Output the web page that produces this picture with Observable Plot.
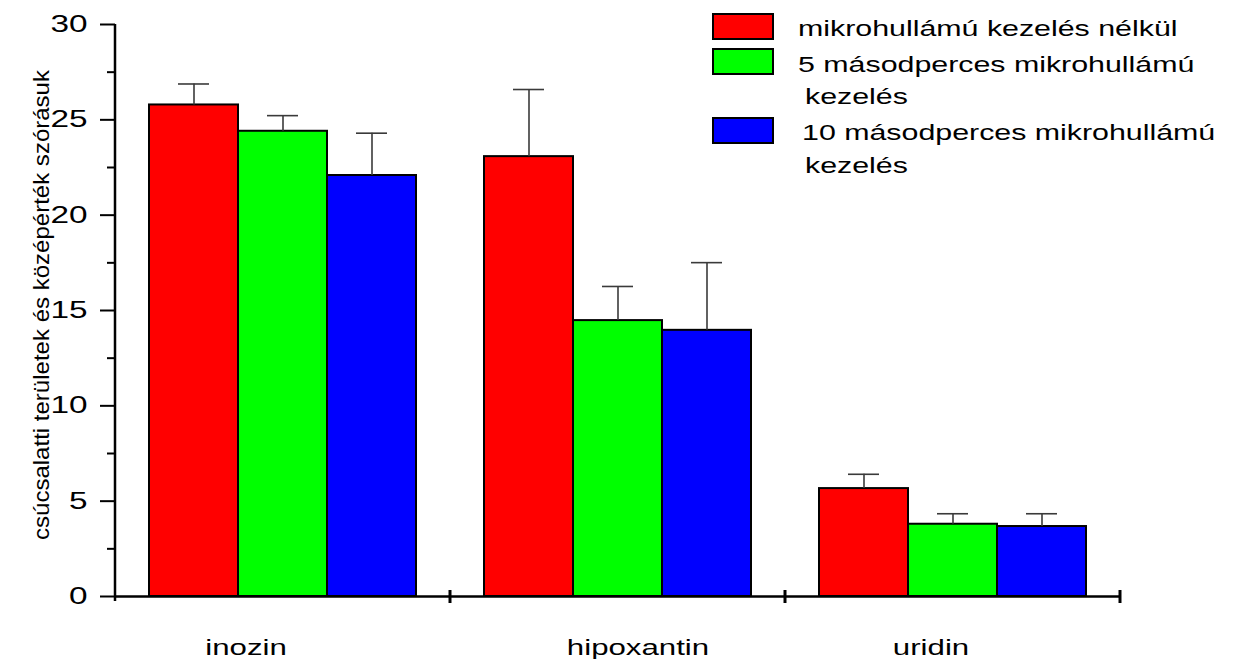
<!DOCTYPE html>
<html>
<head>
<meta charset="utf-8">
<script src="https://cdn.jsdelivr.net/npm/d3@7"></script>
<script src="https://cdn.jsdelivr.net/npm/@observablehq/plot@0.6"></script>
<style>
  html, body { margin: 0; padding: 0; background: #fff; }
  svg { display: block; }
</style>
</head>
<body>
<div id="chart"></div>
<script>
const categories = ["inozin", "hipoxantin", "uridin"];
const series = [
  "mikrohullámú kezelés nélkül",
  "5 másodperces mikrohullámú kezelés",
  "10 másodperces mikrohullámú kezelés"
];
const legendLines = [
  ["mikrohullámú kezelés nélkül"],
  ["5 másodperces mikrohullámú", "kezelés"],
  ["10 másodperces mikrohullámú", "kezelés"]
];
const colors = ["#ff0000", "#00ff00", "#0000ff"];
const meanNone = [25.78, 23.07, 5.66];
const mean5 = [24.40, 14.47, 3.79];
const mean10 = [22.08, 13.96, 3.67];
const sdNone = [1.10, 3.52, 0.75];
const sd5 = [0.82, 1.79, 0.55];
const sd10 = [2.22, 3.55, 0.67];
const yTicks = [0, 5, 10, 15, 20, 25, 30];
const yMinor = [2.5, 7.5, 12.5, 17.5, 22.5, 27.5];
const yTitle = "csúcsalatti területek és középérték szórásuk";

const means = [meanNone, mean5, mean10];
const sds = [sdNone, sd5, sd10];
const data = categories.flatMap((c, i) =>
  series.map((s, j) => ({cat: c, series: s, mean: means[j][i], sd: sds[j][i]}))
);

const FONT = "'Liberation Sans', Arial, Helvetica, sans-serif";
const errColor = "#3a3a3a";

const plot = Plot.plot({
  width: 1235,
  height: 659,
  marginLeft: 114,
  marginRight: 114,
  marginTop: 24,
  marginBottom: 63,
  style: {fontFamily: FONT, fontSize: "22px", color: "black", background: "white", overflow: "visible"},
  fx: {domain: categories, padding: 0, label: null},
  x: {domain: series, paddingInner: 0, paddingOuter: 0.38, axis: null},
  y: {domain: [0, 30], label: null},
  color: {domain: series, range: colors},
  marks: [
    Plot.barY(data, {fx: "cat", x: "series", y: "mean", fill: "series", stroke: "black", strokeWidth: 2}),
    Plot.ruleX(data, {fx: "cat", x: "series", y1: "mean", y2: d => d.mean + d.sd, stroke: errColor, strokeWidth: 1.6}),
    Plot.tickY(data, {fx: "cat", x: "series", y: d => d.mean + d.sd, insetLeft: 29, insetRight: 29, stroke: errColor, strokeWidth: 1.6}),
    Plot.ruleY([0], {stroke: "black", strokeWidth: 2.5}),
    Plot.axisY({ticks: yTicks, tickSize: 15, tickPadding: 13, strokeWidth: 2, strokeOpacity: 1, label: null, fontSize: 23}),
    Plot.axisY({ticks: yMinor, tickSize: 8, strokeWidth: 2, strokeOpacity: 1, tickFormat: () => "", label: null}),
    Plot.axisFx({anchor: "bottom", tickSize: 0, tickPadding: 43, label: null, fontSize: 22})
  ]
});

document.getElementById("chart").appendChild(plot);

const svg = d3.select(plot);
const fx = plot.scale("fx");
const y = plot.scale("y");
const y0 = y.apply(0);
const xLeft = fx.apply(categories[0]);
const bw = fx.bandwidth;

// y axis line
svg.append("line")
  .attr("x1", xLeft).attr("x2", xLeft)
  .attr("y1", y.apply(30)).attr("y2", y0 + 5)
  .attr("stroke", "black").attr("stroke-width", 2.5);

// category boundary ticks
const bounds = categories.map(c => fx.apply(c)).concat([fx.apply(categories[categories.length - 1]) + bw]);
bounds.forEach((b, i) => {
  if (i === 0) return;
  svg.append("line")
    .attr("x1", b).attr("x2", b)
    .attr("y1", y0 - 6).attr("y2", y0 + 7)
    .attr("stroke", "black").attr("stroke-width", 3);
});

// horizontal stretch helper (keeps the anchor point fixed)
function stretch(node, s, anchor, shift = 0) {
  const bb = node.getBBox();
  const ax = anchor === "end" ? bb.x + bb.width : anchor === "start" ? bb.x : bb.x + bb.width / 2;
  const t = node.getAttribute("transform") || "";
  node.setAttribute("transform", `${t} translate(${shift},0) translate(${ax},0) scale(${s},1) translate(${-ax},0)`);
}

svg.selectAll('g[aria-label="y-axis tick label"] text').each(function() { stretch(this, 1.45, "end"); });
const labelShift = {"inozin": -37, "hipoxantin": 20, "uridin": -22};
svg.selectAll('g[aria-label="fx-axis tick label"] text').each(function() {
  stretch(this, 1.42, "middle", labelShift[this.textContent.trim()] || 0);
});

// y axis title
svg.append("text")
  .attr("transform", "translate(49,305) rotate(-90)")
  .attr("text-anchor", "middle")
  .attr("font-family", FONT)
  .attr("font-size", 22)
  .attr("fill", "black")
  .attr("textLength", 470)
  .attr("lengthAdjust", "spacingAndGlyphs")
  .text(yTitle);

// legend
const swatchY = [14, 49, 118];
const lineSpecs = [
  [{x: 798, y: 36}],
  [{x: 798, y: 72}, {x: 805, y: 104}],
  [{x: 802, y: 140}, {x: 805, y: 173}]
];
const lg = svg.append("g")
  .attr("font-family", FONT)
  .attr("font-size", 22)
  .attr("text-anchor", "start");
series.forEach((s, j) => {
  lg.append("rect")
    .attr("x", 713).attr("y", swatchY[j])
    .attr("width", 60).attr("height", 25)
    .attr("fill", colors[j]).attr("stroke", "black").attr("stroke-width", 2);
  legendLines[j].forEach((line, k) => {
    const t = lg.append("text")
      .attr("transform", `translate(${lineSpecs[j][k].x},${lineSpecs[j][k].y})`)
      .attr("text-anchor", "start")
      .attr("fill", "black")
      .text(line);
    stretch(t.node(), 1.38, "start");
  });
});
</script>
</body>
</html>
